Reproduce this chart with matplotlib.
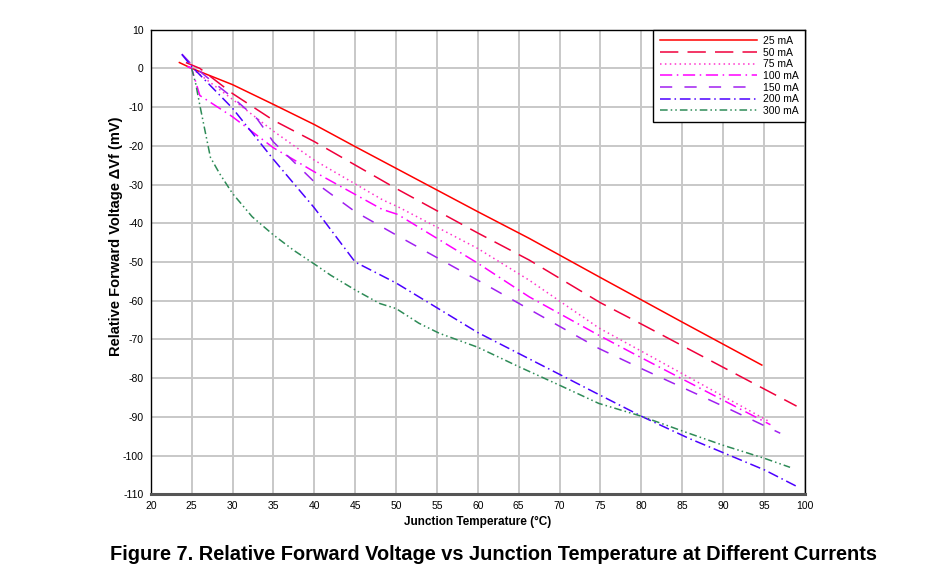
import matplotlib
matplotlib.use('Agg')
import matplotlib.pyplot as plt
import numpy as np

plt.rcParams['font.family'] = ['Liberation Sans Narrow', 'Liberation Sans', 'DejaVu Sans']
plt.rcParams['axes.unicode_minus'] = False

# values (junction temperature in °C, delta Vf in mV)
t_25 = [23.5, 25, 30, 35, 40, 45, 50, 55, 60, 66.3, 75, 85, 94.75]
v_25 = [1.5, 0, -4.2, -9.3, -14.5, -20.2, -25.8, -31.4, -37, -43.9, -54, -65.5, -76.6]

t_50 = [24.3, 26, 30, 35, 40, 50, 60, 66.3, 75, 80, 99]
v_50 = [1.5, 0, -6.5, -13.4, -18.9, -31, -42.5, -49.5, -60.5, -66, -87.2]

t_75 = [24.5, 25, 30, 35, 40, 48.4, 50.2, 60, 66.3, 74.8, 80, 95.5]
v_75 = [0.5, 0, -8, -16.2, -23.7, -34, -35.7, -46.5, -54.7, -67, -73, -91]

t_100 = [24.5, 25, 26, 30, 35, 40, 48.3, 50.2, 60, 66.3, 74.8, 80, 95.8]
v_100 = [0.5, 0, -7, -12.5, -20.5, -26.7, -36.4, -37.7, -50.3, -59, -68.9, -74.7, -92]

t_150 = [23.8, 25, 27, 30, 33, 35, 40, 45, 50, 60, 74.8, 80, 90, 97]
v_150 = [3.7, 1, -2.5, -7.5, -13, -19, -29.3, -37, -43, -54.7, -72.3, -77.5, -87.2, -94.2]

t_200 = [23.8, 25, 30, 35, 40, 45, 50, 60, 70, 74.8, 80.3, 85.8, 90, 95.1, 98.9]
v_200 = [3.6, 0.5, -10.3, -23.5, -36, -50, -55.4, -68.2, -79, -84.2, -90.1, -95.5, -99.2, -103.7, -107.8]

t_300 = [25, 25.5, 26, 26.7, 27.3, 28.4, 30, 32.4, 35, 37.5, 40, 42, 45, 48, 50, 52.8,
         55.3, 60, 65, 70, 74.8, 80, 85.8, 90, 95.1, 98.2]
v_300 = [0, -4, -9.5, -16.8, -23, -27.1, -32.3, -38.3, -43, -47, -50.5, -53.4, -57.2, -60.7,
         -62, -65.8, -68.4, -72, -77, -81.8, -86.5, -89.8, -94.2, -97.3, -100.7, -103]

labels = ['25 mA', '50 mA', '75 mA', '100 mA', '150 mA', '200 mA', '300 mA']
series = [(t_25, v_25), (t_50, v_50), (t_75, v_75), (t_100, v_100),
          (t_150, v_150), (t_200, v_200), (t_300, v_300)]
colors = ['#FF0000', '#F0003C', '#FF33CC', '#FF00FF', '#A020F0', '#4B00FF', '#2E8B57']
styles = ['-', (0, (12, 6)), (0, (1, 2.2)), (0, (8, 3, 1, 3)), (0, (8, 8)),
          (0, (7, 2.5, 1, 2.5)), (0, (5, 2, 1, 2, 1, 2))]

fig = plt.figure(figsize=(9.25, 5.81), dpi=100)
ax = fig.add_axes([0.163, 0.149, 0.707, 0.800])

for (t, v), lab, c, ls in zip(series, labels, colors, styles):
    ax.plot(t, v, color=c, linestyle=ls, linewidth=1.1, label=lab)

ax.set_xlim(20, 100)
ax.set_ylim(-110, 10)
ax.set_xticks(np.arange(20, 101, 5))
ax.set_yticks(np.arange(-110, 11, 10))
ax.grid(True, color='#C8C8C8', linewidth=1.4)
ax.set_axisbelow(True)
ax.tick_params(length=0, labelsize=7.5, pad=5)

for s in ax.spines.values():
    s.set_color('black')
    s.set_linewidth(1.0)
ax.spines['bottom'].set_color('#555555')
ax.spines['bottom'].set_linewidth(2.2)

ax.set_xlabel('Junction Temperature (°C)', fontsize=8.5, fontweight='bold', labelpad=3)
ax.set_ylabel('Relative Forward Voltage \u0394Vf (mV)', fontsize=10.5, fontweight='bold')
ax.yaxis.set_label_coords(-0.042, 0.556)

leg = ax.legend(loc='upper right', bbox_to_anchor=(1, 1), borderaxespad=0,
                fontsize=7.5, handlelength=9.3, labelspacing=0.16, handletextpad=0.6,
                borderpad=0.6, fancybox=False, framealpha=1, edgecolor='black')
leg.get_frame().set_linewidth(1.0)

fig.text(0.533, 0.045, 'Figure 7. Relative Forward Voltage vs Junction Temperature at Different Currents',
         ha='center', va='center', fontsize=14.4, fontweight='bold',
         family=['Liberation Sans', 'DejaVu Sans'])

fig.savefig('out.png', dpi=100)
